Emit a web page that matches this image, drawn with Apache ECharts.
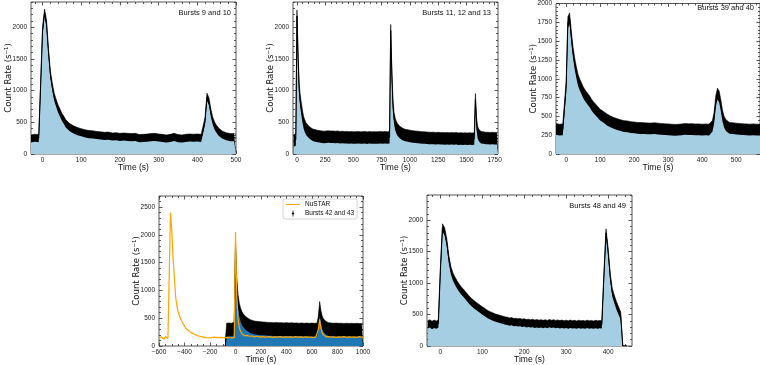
<!DOCTYPE html>
<html><head><meta charset="utf-8">
<script src="https://cdn.jsdelivr.net/npm/echarts@6/dist/echarts.min.js"></script>
<style>html,body{margin:0;padding:0;background:#fff}#c{width:760px;height:365px}</style>
</head><body><div id="c"></div><script>
// ---- Data (count rates) ----
const p1Start = -30, p1Step = 5; // Bursts 9 and 10
const p1Rate = [240,232,252,228,246,238,1950,2230,2060,1620,1260,1060,900,805,715,650,580,535,480,455,420,405,385,372,358,348,340,330,322,316,310,302,306,290,296,284,290,276,282,270,286,265,272,262,276,256,266,260,272,250,266,254,262,250,266,256,246,262,250,270,254,246,262,250,266,244,256,276,250,256,240,262,250,244,266,250,246,256,240,260,250,246,256,240,252,244,256,240,250,258,520,900,830,650,520,440,390,350,322,300,288,276,270,262,256,262,250];

const p2Start = -30, p2Step = 10; // Bursts 11, 12 and 13
const p2Rate = [210,200,225,2180,1500,1000,820,700,580,490,440,400,375,355,340,325,315,300,305,290,295,280,290,275,285,270,280,265,275,270,260,272,262,268,255,270,258,265,252,268,256,262,250,264,255,260,248,262,252,258,246,260,250,256,245,258,250,262,248,255,244,258,250,262,246,254,248,260,250,256,245,258,248,255,244,258,250,262,248,255,250,260,246,255,250,262,1950,1250,760,560,470,420,385,360,345,330,318,310,300,305,292,298,285,290,278,286,272,280,268,276,264,272,260,270,258,266,256,264,252,262,250,258,248,260,250,256,246,258,248,254,244,256,246,252,242,254,246,250,240,252,244,250,240,252,244,248,238,250,242,248,238,250,240,246,236,248,240,246,236,248,240,860,480,340,295,270,262,250,256,244,250,240,248,238,246,236,248,240,246,236,244,240];

const p3Start = -30, p3Step = 5; // Bursts 39 and 40
const p3Rate = [330,345,320,340,325,345,900,1750,1800,1560,1350,1200,1080,980,920,870,820,780,750,720,690,650,620,600,570,545,520,505,490,470,455,440,430,420,410,400,395,385,380,372,368,360,365,350,355,345,350,338,345,335,342,330,340,332,338,328,336,326,340,330,335,345,330,338,326,336,325,334,322,332,318,330,320,300,325,318,330,320,326,315,328,318,325,314,325,316,322,312,324,316,322,330,370,480,700,800,760,640,500,420,380,355,345,335,340,325,335,318,330,320,326,315,325,318,322,312,325,316,322,312,320];

const p4BurstStart = -80, p4BurstStep = 10; // Bursts 42 and 43
const p4BurstRate = [0,290,310,295,305,290,300,310,1750,1100,800,650,560,500,460,430,410,390,375,360,350,345,335,340,325,330,320,328,315,322,312,320,308,318,305,316,304,312,300,314,302,310,298,312,300,308,296,310,300,306,294,308,298,304,292,306,296,302,290,304,294,300,290,302,292,300,288,300,292,298,288,300,292,420,680,520,420,370,340,322,310,300,306,294,302,290,300,292,298,288,300,290,296,286,298,290,296,286,298,288,294,284,296,288,294,284,296,286,292];

const nuStart = -600, nuStep = 10; // NuSTAR
const nuRate = [150,130,165,140,120,170,145,135,160,2400,2100,1600,1250,900,720,620,550,490,440,400,360,320,300,280,260,245,230,220,210,200,205,180,195,170,185,160,175,150,165,145,170,150,140,160,135,155,140,150,130,155,140,145,130,155,140,150,125,145,135,150,2050,900,480,330,260,220,200,185,170,190,160,175,150,180,155,165,145,175,150,160,140,170,150,160,135,165,145,170,150,155,140,165,150,160,135,170,150,155,140,165,145,160,135,165,150,155,140,170,145,160,135,165,150,155,140,165,145,160,135,160,145,150,140,165,160,300,480,320,240,200,180,165,150,170,145,160,140,165,150,155,135,165,150,160,140,170,145,155,140,165,150,160,135,165,150,155,140,170,150,160,145];

const p5Start = -30, p5Step = 5; // Bursts 48 and 49
const p5Rate = [340,355,330,350,335,352,1200,1880,1820,1650,1380,1200,1100,1030,970,920,875,840,800,760,720,690,660,635,610,585,560,540,515,495,480,465,450,440,430,420,410,400,395,385,390,375,380,370,375,365,370,358,365,355,362,350,358,348,356,346,355,345,360,348,355,345,352,342,350,340,348,338,350,340,346,336,348,338,345,336,348,338,345,335,346,338,344,340,1100,1800,1500,1100,850,740,640,560,480,0,0,0];

const panelTitles = ['Bursts 9 and 10','Bursts 11, 12 and 13','Bursts 39 and 40','','Bursts 48 and 49'];
const legendNames = ['NuSTAR','Bursts 42 and 43'];
const errHalf = [60, 95, 75, 120, 62];

// ---- Layout / style ----
const TICKF = "'Liberation Sans Narrow','Liberation Sans',sans-serif";
const LIGHT = '#a6cee3', DARK = '#1f77b4', ORANGE = '#ffa500';
const panels = [
  {grid:{left:31,top:2,width:205,height:152}, x:[-30,500,100,20], y:[0,2400,500,100]},
  {grid:{left:293,top:2,width:205,height:152}, x:[-35,1780,250,50], y:[0,2400,500,100]},
  {grid:{left:556,top:2,width:205,height:152}, x:[-30,570,100,20], y:[0,2000,250,50]},
  {grid:{left:159,top:196,width:204,height:152}, x:[-600,1000,200,50], y:[0,2700,500,100]},
  {grid:{left:427,top:195,width:205,height:152}, x:[-32,457,100,20], y:[0,2400,500,100]}
];
const titlePos = [{right:529,top:9},{right:269,top:9},{right:6,top:4},null,{right:134,top:202}];

function ticks(mn,mx,st){const o=[];for(let v=Math.ceil(mn/st-1e-9)*st;v<=mx+1e-9;v+=st)o.push(Math.round(v*1000)/1000);return o;}
const fmt = v => String(v).replace('-','\u2212');
const tickLine = {color:'#333',width:0.8};

const grids=[], xAxes=[], yAxes=[];
panels.forEach((p,gi)=>{
  grids.push({...p.grid, show:true, borderColor:'#555', borderWidth:1, backgroundColor:'transparent'});
  const [xmn,xmx,xmj,xmi]=p.x, [ymn,ymx,ymj,ymi]=p.y;
  const xM=ticks(xmn,xmx,xmj), xm=ticks(xmn,xmx,xmi).filter(v=>!xM.includes(v));
  const yM=ticks(ymn,ymx,ymj), ym=ticks(ymn,ymx,ymi).filter(v=>!yM.includes(v));
  const xb={type:'value',gridIndex:gi,min:xmn,max:xmx,splitLine:{show:false},axisLine:{show:false,onZero:false}};
  const yb={type:'value',gridIndex:gi,min:ymn,max:ymx,splitLine:{show:false},axisLine:{show:false,onZero:false}};
  xAxes.push(
    {...xb,position:'bottom',name:'Time (s)',nameLocation:'middle',nameGap:9,nameMoveOverlap:false,
      nameTextStyle:{fontSize:8.5,fontFamily:'Liberation Sans',color:'#111'},
      axisTick:{inside:true,length:3.5,customValues:xM,lineStyle:tickLine},
      axisLabel:{customValues:xM,fontSize:6.5,margin:3,color:'#222',fontFamily:TICKF,formatter:fmt}},
    {...xb,position:'bottom',axisTick:{inside:true,length:2,customValues:xm,lineStyle:tickLine},axisLabel:{show:false}},
    {...xb,position:'top',axisTick:{inside:true,length:3.5,customValues:xM,lineStyle:tickLine},axisLabel:{show:false}},
    {...xb,position:'top',axisTick:{inside:true,length:2,customValues:xm,lineStyle:tickLine},axisLabel:{show:false}}
  );
  yAxes.push(
    {...yb,position:'left',name:'Count Rate (s\u207B\u00B9)',nameLocation:'middle',nameGap:17,nameMoveOverlap:false,
      nameTextStyle:{fontSize:9.5,fontFamily:'DejaVu Sans Condensed',color:'#111'},
      axisTick:{inside:true,length:3.5,customValues:yM,lineStyle:tickLine},
      axisLabel:{customValues:yM,fontSize:6.5,margin:4,color:'#222',fontFamily:TICKF,formatter:fmt}},
    {...yb,position:'left',axisTick:{inside:true,length:2,customValues:ym,lineStyle:tickLine},axisLabel:{show:false}},
    {...yb,position:'right',axisTick:{inside:true,length:3.5,customValues:yM,lineStyle:tickLine},axisLabel:{show:false}},
    {...yb,position:'right',axisTick:{inside:true,length:2,customValues:ym,lineStyle:tickLine},axisLabel:{show:false}}
  );
});

const pairs=(start,step,arr)=>arr.map((v,i)=>[start+i*step,v]);
const series=[];
// Error-bar band: black area up to (rate + err), fill colour up to (rate - err), thin black line on the rate.
function addPanel(gi, start, step, arr, fill, name){
  const ax={xAxisIndex:4*gi,yAxisIndex:4*gi};
  const e=errHalf[gi];
  const hi=arr.map(v=>v>0?v+e:0);
  const lo=arr.map(v=>Math.max(0,v-e));
  series.push({type:'line',...ax,name:name||('band'+gi),data:pairs(start,step,hi),symbol:'none',
    lineStyle:{width:0.6,color:'#000'},areaStyle:{color:'#000',opacity:1},itemStyle:{color:'#000'},z:2});
  series.push({type:'line',...ax,name:'fill'+gi,data:pairs(start,step,lo),symbol:'none',
    lineStyle:{width:0},areaStyle:{color:fill,opacity:1},itemStyle:{color:fill},z:2,silent:true});
  series.push({type:'line',...ax,name:'rate'+gi,data:pairs(start,step,arr),symbol:'none',
    lineStyle:{width:1,color:'#000'},itemStyle:{color:'#000'},z:2,silent:true});
}
addPanel(0,p1Start,p1Step,p1Rate,LIGHT);
addPanel(1,p2Start,p2Step,p2Rate,LIGHT);
addPanel(2,p3Start,p3Step,p3Rate,LIGHT);
addPanel(3,p4BurstStart,p4BurstStep,p4BurstRate,DARK,legendNames[1]);
addPanel(4,p5Start,p5Step,p5Rate,LIGHT);
series.push({type:'line',xAxisIndex:12,yAxisIndex:12,name:legendNames[0],data:pairs(nuStart,nuStep,nuRate),
  symbol:'none',lineStyle:{width:1.2,color:ORANGE},itemStyle:{color:ORANGE},z:3});

const titles=[];
panelTitles.forEach((t,i)=>{ if(t) titles.push({text:t,...titlePos[i],padding:0,
  textStyle:{fontSize:7.5,fontWeight:'normal',fontFamily:'Liberation Sans',color:'#111'}}); });

const chart=echarts.init(document.getElementById('c'),null,{renderer:'canvas'});
chart.setOption({
  animation:false,
  title:titles,
  grid:grids, xAxis:xAxes, yAxis:yAxes, series:series,
  legend:{data:[{name:legendNames[0],icon:'path://M0,3.5h14v1h-14z'},{name:legendNames[1],icon:'path://M6.5,0h1v8h-1z M5.5,3h3v2h-3z'}],
    orient:'vertical',left:283,top:199,itemWidth:14,itemHeight:6,itemGap:2,padding:[2,3],
    borderColor:'#ccc',borderWidth:0.8,borderRadius:2,backgroundColor:'#fff',
    textStyle:{fontSize:6.5,fontFamily:'Liberation Sans',color:'#111'}}
});
</script></body></html>
